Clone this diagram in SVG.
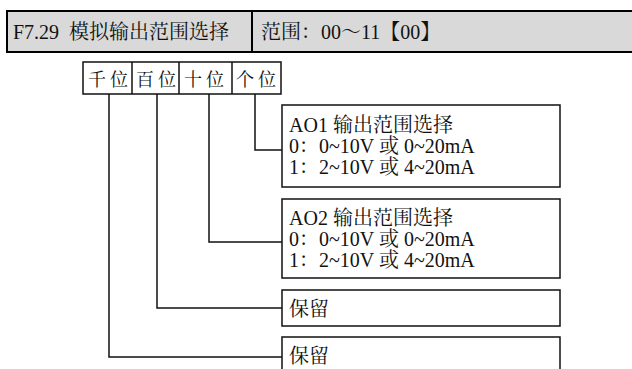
<svg xmlns="http://www.w3.org/2000/svg" width="632" height="369" viewBox="0 0 632 369">
<style>
.t{font-family:"Liberation Serif","Noto Serif CJK SC","Noto Sans CJK SC",serif;fill:#111}
.h{font-size:20px}
.d{font-size:18px;letter-spacing:4px}
.b{font-size:20px}
.box{fill:#fff;stroke:#111;stroke-width:1.5}
.ln{fill:none;stroke:#111;stroke-width:1.5}
</style>
<rect width="632" height="369" fill="#fff"/>
<g id="header">
<rect x="7" y="11" width="630" height="41" fill="#d9d9d9" stroke="#000" stroke-width="2"/>
<line x1="252" y1="11" x2="252" y2="52" stroke="#000" stroke-width="2"/>
<text class="t h" x="13" y="39">F7.29 <tspan x="69">模拟输出范围选择</tspan></text>
<text class="t h" x="261" y="39">范围：00～11【00】</text>
</g>
<g id="digits">
<rect class="box" x="83" y="62" width="198" height="32"/>
<line class="ln" x1="132" y1="62" x2="132" y2="94"/>
<line class="ln" x1="179" y1="62" x2="179" y2="94"/>
<line class="ln" x1="232" y1="62" x2="232" y2="94"/>
<text class="t d" x="88" y="86">千位</text>
<text class="t d" x="136" y="86">百位</text>
<text class="t d" x="184" y="86">十位</text>
<text class="t d" x="236" y="86">个位</text>
</g>
<g id="connectors">
<polyline class="ln" points="255,94 255,150 282,150"/>
<polyline class="ln" points="209,94 209,242 282,242"/>
<polyline class="ln" points="157,94 157,308 282,308"/>
<polyline class="ln" points="109,94 109,357 282,357"/>
</g>
<g id="ao1">
<rect class="box" x="282" y="105" width="278" height="82"/>
<text class="t b" x="289" y="132">AO1 输出范围选择</text>
<text class="t b" x="289" y="153">0：0~10V 或 0~20mA</text>
<text class="t b" x="289" y="174">1：2~10V 或 4~20mA</text>
</g>
<g id="ao2">
<rect class="box" x="282" y="199" width="278" height="79"/>
<text class="t b" x="289" y="225">AO2 输出范围选择</text>
<text class="t b" x="289" y="246">0：0~10V 或 0~20mA</text>
<text class="t b" x="289" y="267">1：2~10V 或 4~20mA</text>
</g>
<g id="res1">
<rect class="box" x="282" y="290" width="278" height="36"/>
<text class="t b" x="289" y="316">保留</text>
</g>
<g id="res2">
<rect class="box" x="282" y="337" width="278" height="40"/>
<text class="t b" x="289" y="363">保留</text>
</g>
</svg>
